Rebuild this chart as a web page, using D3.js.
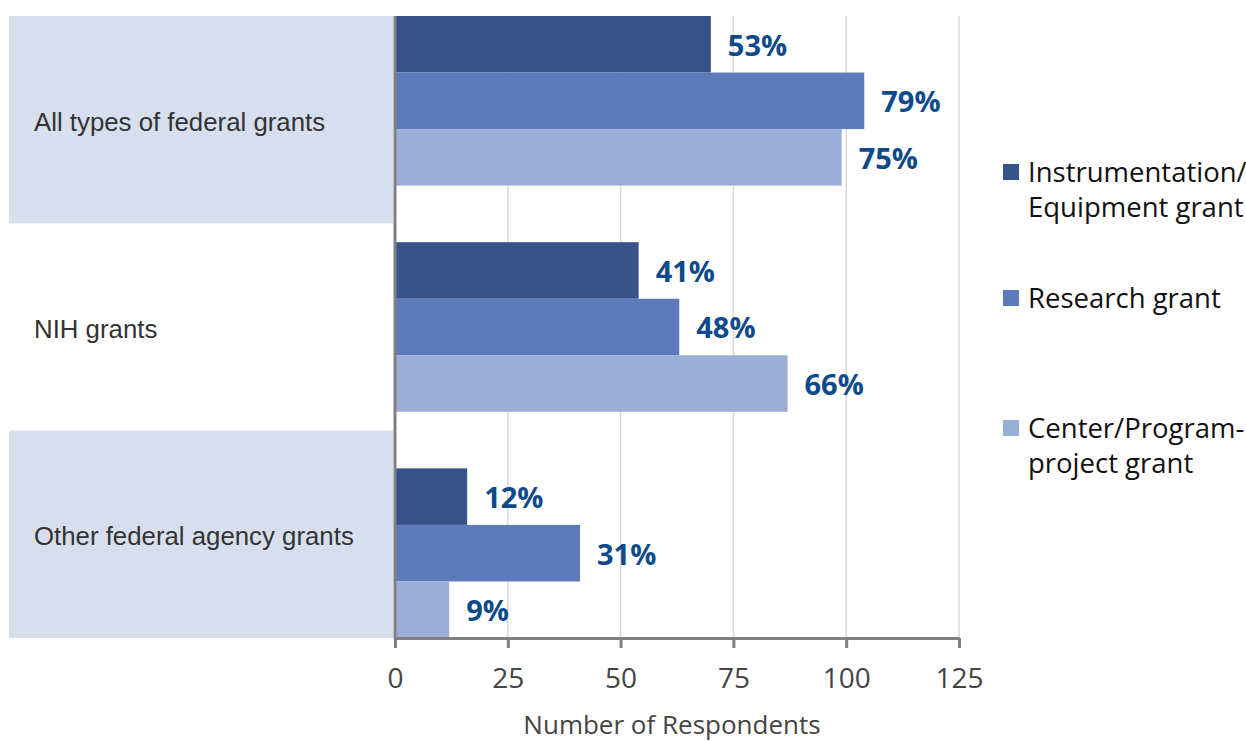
<!DOCTYPE html>
<html><head><meta charset="utf-8">
<script src="https://cdn.jsdelivr.net/npm/d3@7"></script>
<style>body{margin:0;background:#fff}svg{display:block}</style>
</head><body>
<svg id="chart" width="1246" height="741"></svg>
<script>
const categories = ["All types of federal grants", "NIH grants", "Other federal agency grants"];
const seriesNames = ["Instrumentation/\nEquipment grant", "Research grant", "Center/Program-\nproject grant"];
const instrumentation = [70, 54, 16];
const research = [104, 63, 41];
const center = [99, 87, 12];
const instrumentationPct = ["53%", "41%", "12%"];
const researchPct = ["79%", "48%", "31%"];
const centerPct = ["75%", "66%", "9%"];
const xTicks = [0, 25, 50, 75, 100, 125];
const colors = ["#38528a", "#5d7aba", "#9aafd8"];

const values = [instrumentation, research, center];
const pcts = [instrumentationPct, researchPct, centerPct];

const svg = d3.select("#chart");
const x0 = 395, x1 = 959, yTop = 16, yBot = 638;
const x = d3.scaleLinear().domain([0, 125]).range([x0, x1]);
const bandY = d3.scaleBand().domain(categories).range([yTop, yBot]).padding(0);
const groupY = d3.scaleBand().domain(categories).range([yTop, yBot]).paddingInner(0.25).paddingOuter(0);
const barY = d3.scaleBand().domain([0,1,2]).range([0, groupY.bandwidth()]).padding(0);

// shaded bands
svg.append("g").selectAll("rect").data(categories.filter((d,i)=>i%2===0)).join("rect")
  .attr("x", 9).attr("width", x0 - 2 - 9)
  .attr("y", d => bandY(d)).attr("height", bandY.bandwidth())
  .attr("fill", "#d7dfee");

// gridlines
svg.append("g").selectAll("line").data(xTicks.slice(1)).join("line")
  .attr("x1", d => x(d)).attr("x2", d => x(d))
  .attr("y1", yTop).attr("y2", yBot)
  .attr("stroke", "#d9d9d9").attr("stroke-width", 1.5);

// bars
const rows = [];
categories.forEach((c, ci) => values.forEach((arr, si) => rows.push({c, si, v: arr[ci], p: pcts[si][ci]})));
svg.append("g").selectAll("rect").data(rows).join("rect")
  .attr("x", x(0)).attr("width", d => x(d.v) - x(0))
  .attr("y", d => groupY(d.c) + barY(d.si)).attr("height", barY.bandwidth())
  .attr("fill", d => colors[d.si]);

svg.append("g").selectAll("text").data(rows).join("text")
  .attr("x", d => x(d.v) + 17)
  .attr("y", d => groupY(d.c) + barY(d.si) + barY.bandwidth()/2 + 1)
  .attr("dy", "0.36em")
  .attr("font-family", "'Open Sans', sans-serif").attr("font-weight", 700)
  .attr("font-size", 29).attr("fill", "#0d4a8b")
  .text(d => d.p);

// category labels
svg.append("g").selectAll("text").data(categories).join("text")
  .attr("x", 34).attr("y", d => bandY(d) + bandY.bandwidth()/2 + 2)
  .attr("dy", "0.35em")
  .attr("font-family", "'Liberation Sans', Arial, sans-serif")
  .attr("font-size", 25.8).attr("fill", "#333")
  .text(d => d);

// x axis
const xAxis = svg.append("g").attr("transform", `translate(0,${yBot})`)
  .call(d3.axisBottom(x).tickValues(xTicks).tickSize(10).tickSizeOuter(0).tickPadding(20));
xAxis.select(".domain").attr("stroke", "#808080").attr("stroke-width", 3);
xAxis.selectAll(".tick line").attr("stroke", "#808080").attr("stroke-width", 3);
xAxis.selectAll(".tick text").attr("font-family", "'Open Sans', sans-serif")
  .attr("font-size", 28).attr("fill", "#444");

// y axis line
svg.append("line").attr("x1", x0).attr("x2", x0).attr("y1", yTop).attr("y2", yBot + 1)
  .attr("stroke", "#808080").attr("stroke-width", 3);

svg.append("text").attr("x", (x0 + x1)/2 - 5).attr("y", 734)
  .attr("text-anchor", "middle")
  .attr("font-family", "'Open Sans', sans-serif").attr("font-size", 26).attr("fill", "#444")
  .text("Number of Respondents");

// legend
const legendY = [172, 298, 428];
const lg = svg.append("g").selectAll("g").data(seriesNames).join("g")
  .attr("transform", (d,i) => `translate(1003,${legendY[i]})`);
lg.append("rect").attr("x", 0).attr("y", -8).attr("width", 16).attr("height", 16)
  .attr("fill", (d,i) => colors[i]);
lg.append("text").attr("x", 25).attr("y", 0)
  .attr("font-family", "'Open Sans', sans-serif").attr("font-size", 27.5).attr("fill", "#111")
  .selectAll("tspan").data(d => d.split("\n")).join("tspan")
  .attr("x", 25).attr("dy", (d,i) => i === 0 ? "0.35em" : "1.3em")
  .text(d => d);
</script>
</body></html>
